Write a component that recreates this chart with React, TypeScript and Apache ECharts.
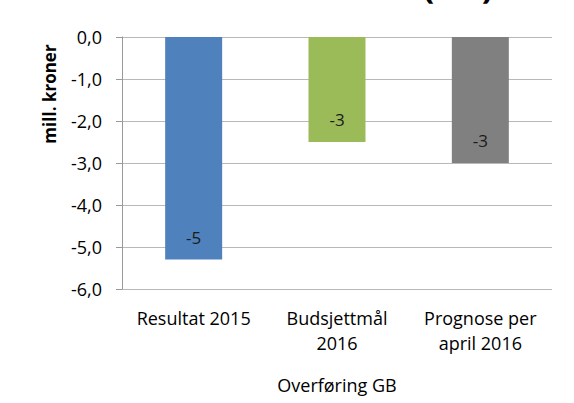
import React, { useEffect, useRef } from "react";
import * as echarts from "echarts";

const categories = ["Resultat 2015", "Budsjettmål\n2016", "Prognose per\napril 2016"];
const values = [-5.3, -2.5, -3.0];
const barColors = ["#4f81bd", "#9bbb59", "#808080"];
const yMin = -6;
const yMax = 0;
const yInterval = 1;
const yAxisTitle = "mill. kroner";
const xAxisTitle = "Overføring GB";
const topTitle = "(GB)";

const FONT = "'Open Sans', 'Noto Sans', sans-serif";

export default function App() {
  const ref = useRef<HTMLDivElement>(null);
  useEffect(() => {
    if (!ref.current) return;
    const chart = echarts.init(ref.current, null, { renderer: "svg" });
    chart.setOption({
      animation: false,
      backgroundColor: "#ffffff",
      grid: { left: 122, right: 22, top: 37, bottom: 114, containLabel: false },
      xAxis: {
        type: "category",
        data: categories,
        position: "bottom",
        axisLine: { show: false },
        axisTick: { show: false },
        axisLabel: {
          color: "#000",
          fontSize: 18,
          fontFamily: FONT,
          lineHeight: 25,
          margin: 16,
          interval: 0,
        },
        name: xAxisTitle,
        nameLocation: "middle",
        nameGap: 86,
        nameTextStyle: { color: "#000", fontSize: 18, fontFamily: FONT, lineHeight: 20 },
      },
      yAxis: {
        type: "value",
        min: yMin,
        max: yMax,
        interval: yInterval,
        axisLine: { show: true, onZero: false, lineStyle: { color: "#999999", width: 1 } },
        axisTick: { show: true, length: 6, lineStyle: { color: "#999999" } },
        splitLine: { show: true, lineStyle: { color: "#b8b8b8", width: 1 } },
        axisLabel: {
          color: "#000",
          fontSize: 18,
          fontFamily: FONT,
          margin: 20,
          formatter: (v: number) => v.toFixed(1).replace(".", ",").replace("-0,0", "0,0"),
        },
      },
      series: [
        {
          type: "bar",
          barWidth: 57,
          data: values.map((v, i) => ({ value: v, itemStyle: { color: barColors[i] } })),
          label: {
            show: true,
            position: "insideBottom",
            distance: 14,
            color: "#1a1a1a",
            fontSize: 17,
            fontFamily: FONT,
            formatter: (p: any) => {
              const v = p.value as number;
              const r = Math.round(Math.abs(v));
              return (v < 0 ? "-" : "") + r;
            },
          },
        },
      ],
      graphic: [
        {
          type: "text",
          x: 49,
          y: 94,
          rotation: Math.PI / 2,
          style: {
            text: yAxisTitle,
            fill: "#000",
            font: `bold 17px ${FONT}`,
            align: "center",
            verticalAlign: "middle",
          },
        },
        {
          type: "text",
          x: 458,
          y: 2,
          style: {
            text: topTitle,
            fill: "#000",
            font: `bold 34px ${FONT}`,
            align: "center",
            verticalAlign: "bottom",
          },
        },
      ],
    });
    return () => chart.dispose();
  }, []);
  return (
    <div
      ref={ref}
      style={{ position: "fixed", left: 0, top: 0, width: 574, height: 403 }}
    />
  );
}
